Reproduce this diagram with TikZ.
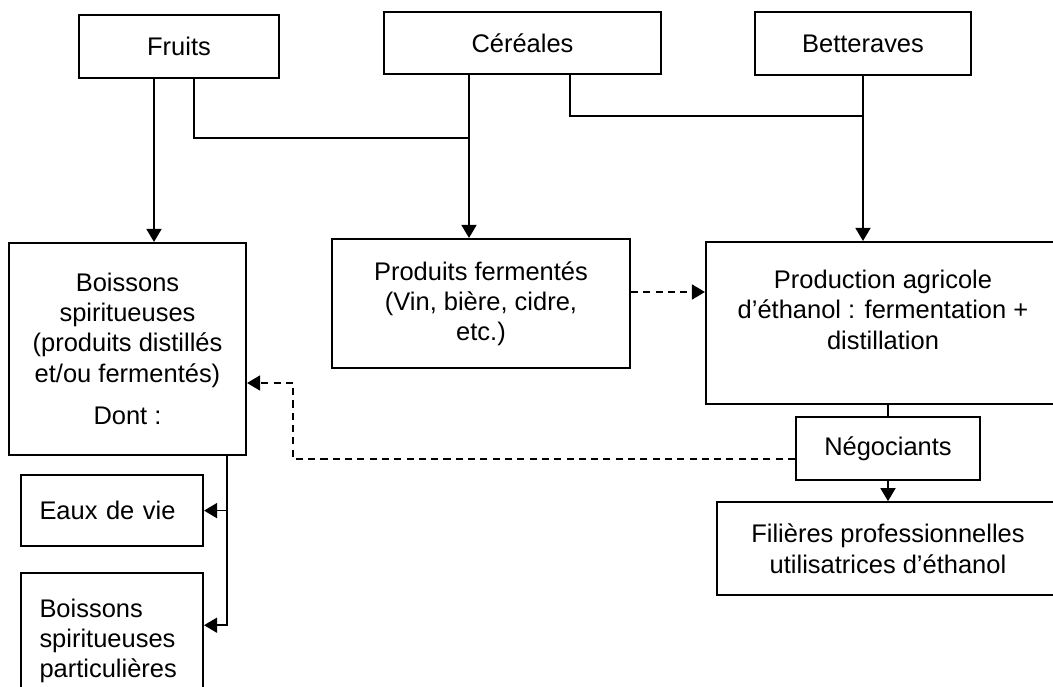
\documentclass[tikz,border=0pt]{standalone}
\usepackage{fontspec}
\setmainfont{Liberation Sans}
\usetikzlibrary{arrows.meta, positioning}

\begin{document}
\begin{tikzpicture}[
            box/.style={draw, rectangle, line width=1.2pt, align=center, inner sep=0pt, font=\fontsize{14.5}{17.2}\selectfont},
            leftbox/.style={box, align=left, text width=2.9cm, inner xsep=0.37cm},
            arrow/.style={-{Triangle[width=0.3cm, length=0.26cm]}, line width=0.9pt},
            link/.style={line width=0.9pt},
            dasharrow/.style={arrow, dash pattern=on 4pt off 3pt}
        ]
        \clip (0,0) rectangle (21.06,-13.74);

        \node[box, minimum width=4cm, minimum height=1.26cm] (fruits) at (3.58,-0.93) {Fruits};
        \node[box, minimum width=5.54cm, minimum height=1.24cm] (cereales) at (10.45,-0.86) {Céréales};
        \node[box, minimum width=4.32cm, minimum height=1.26cm] (betteraves) at (17.26,-0.87) {Betteraves};

        \node[box, minimum width=4.74cm, minimum height=4.24cm] (boissons) at (2.55,-6.98) {Boissons\\spiritueuses\\(produits distillés\\et/ou fermentés)\\[7pt]Dont :};
        \node[box, minimum width=5.96cm, minimum height=2.58cm] (fermentes) at (9.62,-6.07) {Produits fermentés\\(Vin, bière, cidre,\\etc.)};
        \node[box, minimum width=7.08cm, minimum height=3.24cm] (production) at (17.66,-6.46) {Production agricole\\d’éthanol : fermentation +\\distillation\rule[-0.53cm]{0pt}{0.53cm}};

        \node[box, minimum width=3.68cm, minimum height=1.26cm, below=0.22cm of production, xshift=0.1cm] (negociants) {Négociants};
        \node[box, minimum width=6.84cm, minimum height=1.86cm, below=0.4cm of negociants] (filieres) {Filières professionnelles\\utilisatrices d’éthanol};

        \node[leftbox, minimum width=3.64cm, minimum height=1.42cm, below=0.36cm of boissons, xshift=-0.31cm] (eaux) {Eaux de vie};
        \node[leftbox, minimum width=3.64cm, minimum height=2.7cm, below=0.5cm of eaux] (particulieres) {Boissons\\spiritueuses\\particulières};

        \coordinate (fjoin) at (9.38,-2.76);
        \coordinate (cjoin) at (17.26,-2.32);
        \coordinate (dturn) at (5.86,-7.66);
        \coordinate (bdrop) at ([xshift=-0.4cm]boissons.south east);

        \draw[arrow] ([xshift=-0.5cm]fruits.south) -- ([xshift=-0.5cm]fruits.south |- boissons.north);
        \draw[link] ([xshift=0.3cm]fruits.south) |- (fjoin);
        \draw[arrow] (cereales.south -| fjoin) -- (fermentes.north -| fjoin);
        \draw[link] ([xshift=0.95cm]cereales.south) |- (cjoin);
        \draw[arrow] (betteraves.south) -- (betteraves.south |- production.north);

        \draw[dasharrow] ([yshift=0.23cm]fermentes.east) -- ([yshift=0.23cm]fermentes.east -| production.west);
        \draw[link] (production.south -| negociants.north) -- (negociants.north);
        \draw[arrow] (negociants.south) -- (filieres.north);
        \draw[dasharrow] ([yshift=-0.21cm]negociants.west) -| (dturn) -- (dturn -| boissons.east);

        \draw[arrow] (bdrop) |- ([yshift=0.31cm]particulieres.east);
        \draw[arrow] (bdrop |- eaux.east) -- (eaux.east);

        \end{tikzpicture}
\end{document}
